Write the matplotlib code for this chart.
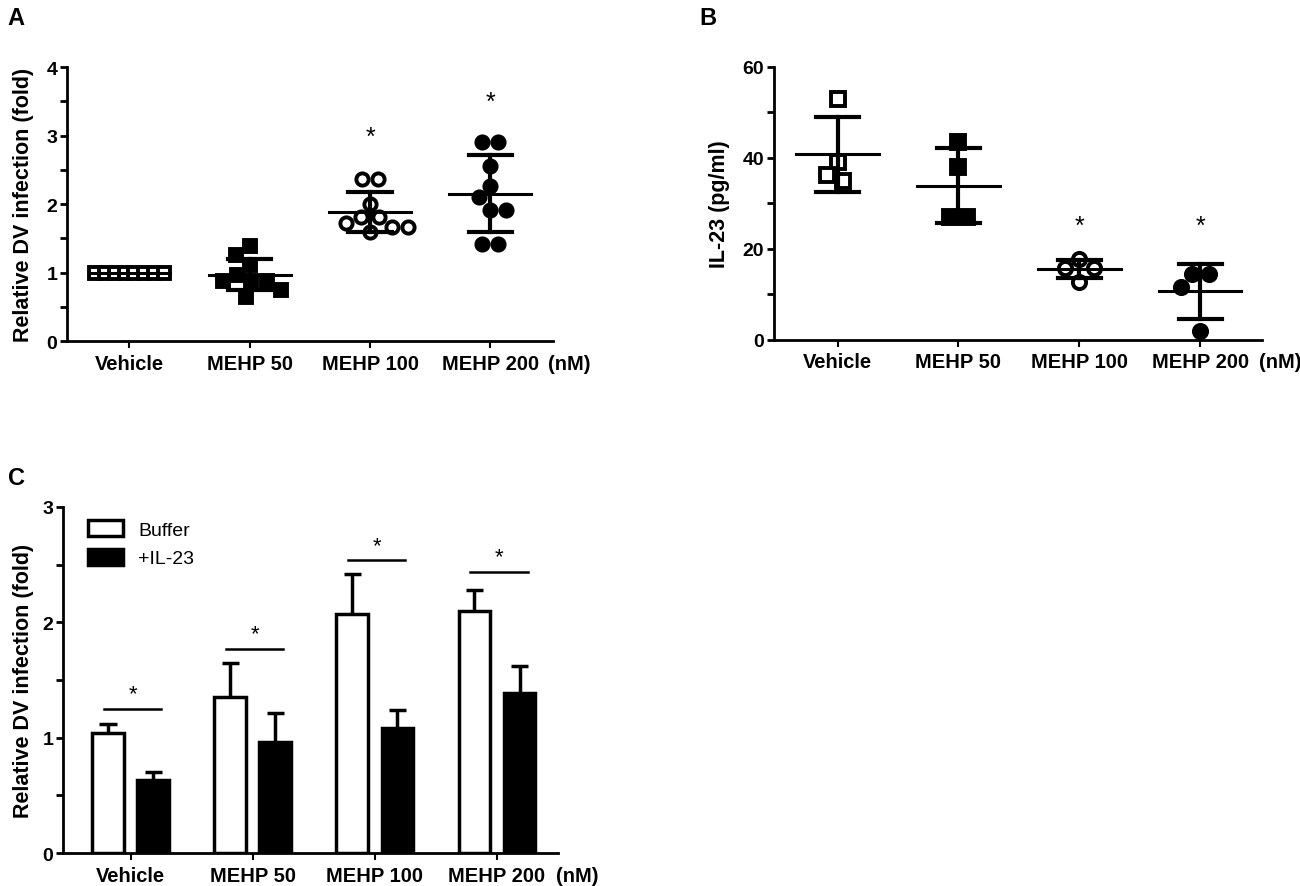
import numpy as np
import matplotlib
matplotlib.use("Agg")
import matplotlib.pyplot as plt
from matplotlib.patches import Patch
from matplotlib.ticker import MultipleLocator

plt.rcParams['font.family'] = ['Liberation Sans', 'DejaVu Sans']

groups = ["Vehicle", "MEHP 50", "MEHP 100", "MEHP 200"]

# panel A: relative DV infection (fold), individual values
a_vehicle = [1.0, 1.0, 1.0, 1.0, 1.0, 1.0, 1.0, 1.0]
a_mehp50 = [1.38, 1.26, 1.11, 0.97, 0.87, 0.87, 0.87, 0.75, 0.65]
a_mehp100 = [2.37, 2.37, 2.0, 1.81, 1.81, 1.73, 1.67, 1.67, 1.59]
a_mehp200 = [2.90, 2.90, 2.55, 2.27, 2.10, 1.91, 1.91, 1.41, 1.41]
a_mean = [1.0, 0.97, 1.88, 2.15]
a_sd = [0.0, 0.23, 0.29, 0.56]
a_star = [None, None, 3.10, 3.61]

# panel B: IL-23 (pg/ml)
b_vehicle = [53.0, 39.1, 36.2, 35.0]
b_mehp50 = [43.5, 38.0, 27.1, 27.1]
b_mehp100 = [17.9, 15.9, 15.9, 12.8]
b_mehp200 = [14.5, 14.5, 11.6, 1.9]
b_mean = [40.8, 33.9, 15.6, 10.7]
b_sd = [8.3, 8.2, 1.9, 6.0]
b_star = [None, None, 26.9, 26.9]

# panel C: bars, mean and upper error
c_buffer = [1.04, 1.35, 2.075, 2.10]
c_buffer_err = [0.08, 0.30, 0.345, 0.18]
c_il23 = [0.636, 0.96, 1.08, 1.39]
c_il23_err = [0.064, 0.25, 0.16, 0.23]
c_sig = [1.25, 1.77, 2.54, 2.44]

# marker style per group: (marker, filled)
styles = [("s", False), ("s", True), ("o", False), ("o", True)]

fig = plt.figure(figsize=(13, 8.87), dpi=100)


def style_axis(ax, ymax, major, minor):
    ax.spines['top'].set_visible(False)
    ax.spines['right'].set_visible(False)
    ax.spines['left'].set_linewidth(2)
    ax.spines['bottom'].set_linewidth(2)
    ax.set_ylim(0, ymax)
    ax.yaxis.set_major_locator(MultipleLocator(major))
    ax.yaxis.set_minor_locator(MultipleLocator(minor))
    ax.tick_params(axis='y', which='major', length=5, width=2, labelsize=14, pad=2)
    ax.tick_params(axis='y', which='minor', length=5, width=2)
    ax.tick_params(axis='x', length=5, width=1.5, labelsize=14.5, pad=4)
    ax.set_xticks(range(len(groups)))
    ax.set_xticklabels(groups, fontweight='bold')
    for t in ax.get_yticklabels():
        t.set_fontweight('bold')
    ax.annotate("(nM)", xy=(3.66, 0), xycoords=('data', 'axes fraction'),
                xytext=(0, -9), textcoords='offset points', ha='center', va='top',
                fontsize=14.5, fontweight='bold', annotation_clip=False)


def swarm(ax, x0, ys, d_px, max_row):
    # simple beeswarm in pixel space, returns x positions in data units
    to_px = ax.transData.transform
    px0 = to_px((x0, 0))[0]
    upx = to_px((1, 0))[0] - to_px((0, 0))[0]
    pys = [to_px((0, y))[1] for y in ys]
    placed = []
    xs = [None] * len(ys)
    order = sorted(range(len(ys)), key=lambda i: -ys[i])

    def free(px, py):
        return all((px - qx) ** 2 + (py - qy) ** 2 >= (0.98 * d_px) ** 2 for qx, qy in placed)

    for i in order:
        if xs[i] is not None:
            continue
        same = [j for j in order if ys[j] == ys[i] and xs[j] is None]
        if len(same) > 1:
            step = min(d_px, max_row * upx / (len(same) - 1))
            row = [(k - (len(same) - 1) / 2) * step for k in range(len(same))]
            if all(free(px0 + r, pys[i]) for r in row):
                for j, r in zip(same, row):
                    xs[j] = px0 + r
                    placed.append((px0 + r, pys[j]))
                continue
        cands = [px0]
        for qx, qy in placed:
            dy = abs(qy - pys[i])
            if dy < d_px:
                dx = np.sqrt(d_px ** 2 - dy ** 2)
                cands += [qx - dx, qx + dx]
        cands.sort(key=lambda c: abs(c - px0))
        for c in cands:
            if free(c, pys[i]):
                xs[i] = c
                placed.append((c, pys[i]))
                break
    return [x0 + (x - px0) / upx for x in xs]


def scatter_panel(ax, data, means, sds, stars, ms, d_px):
    for k, ys in enumerate(data):
        mk, filled = styles[k]
        xs = swarm(ax, k, ys, d_px, 0.58)
        ax.plot(xs, ys, linestyle='none', marker=mk, ms=ms, mew=2.8,
                mec='black', mfc='black' if filled else 'white', zorder=2, clip_on=False)
        m, s = means[k], sds[k]
        ax.plot([k - 0.34, k + 0.34], [m, m], color='black', lw=2.2, zorder=3)
        if s > 0:
            ax.plot([k, k], [m - s, m + s], color='black', lw=3, zorder=3)
            ax.plot([k - 0.18, k + 0.18], [m + s, m + s], color='black', lw=3, zorder=3)
            ax.plot([k - 0.18, k + 0.18], [m - s, m - s], color='black', lw=3, zorder=3)
        if stars[k] is not None:
            ax.annotate("*", xy=(k, stars[k]), xytext=(0, -6), textcoords='offset points',
                        ha='center', va='center', fontsize=18)


# ---------- panel A ----------
axA = fig.add_axes([0.0515, 0.6144, 0.3738, 0.3089])
axA.set_xlim(-0.52, 3.52)
style_axis(axA, 4, 1, 0.5)
axA.set_ylabel("Relative DV infection (fold)", fontsize=15.5, fontweight='bold')
axA.yaxis.set_label_coords(-0.068, 0.5)
scatter_panel(axA, [a_vehicle, a_mehp50, a_mehp100, a_mehp200], a_mean, a_sd, a_star, 8.8, 16)

# ---------- panel B ----------
axB = fig.add_axes([0.5954, 0.6156, 0.3754, 0.3078])
axB.set_xlim(-0.525, 3.51)
style_axis(axB, 60, 20, 10)
axB.set_ylabel("IL-23 (pg/ml)", fontsize=15.5, fontweight='bold')
axB.yaxis.set_label_coords(-0.09, 0.5)
scatter_panel(axB, [b_vehicle, b_mehp50, b_mehp100, b_mehp200], b_mean, b_sd, b_star, 9.5, 17)

# ---------- panel C ----------
axC = fig.add_axes([0.0485, 0.0372, 0.3808, 0.3901])
axC.set_xlim(-0.553, 3.5)
style_axis(axC, 3, 1, 0.5)
axC.set_ylabel("Relative DV infection (fold)", fontsize=15.5, fontweight='bold')
axC.yaxis.set_label_coords(-0.058, 0.5)

x = np.arange(len(groups))
w = 0.26
off = 0.185
axC.bar(x - off, c_buffer, w, color='white', edgecolor='black', linewidth=2.5, zorder=2)
axC.bar(x + off, c_il23, w, color='black', edgecolor='black', linewidth=2.5, zorder=2)
for xs, h, e in [(x - off, c_buffer, c_buffer_err), (x + off, c_il23, c_il23_err)]:
    tops = np.array(h) + np.array(e)
    axC.vlines(xs, h, tops, color='black', lw=2.5, zorder=1)
    axC.hlines(tops, xs - 0.07, xs + 0.07, color='black', lw=2.5, zorder=1)
for k, y in enumerate(c_sig):
    axC.plot([k - 0.22, k + 0.25], [y, y], color='black', lw=1.8)
    axC.annotate("*", xy=(k + 0.02, y), xytext=(0, 3), textcoords='offset points',
                 ha='center', va='bottom', fontsize=16)

axC.legend(handles=[Patch(facecolor='white', edgecolor='black', linewidth=2.5, label='Buffer'),
                    Patch(facecolor='black', edgecolor='black', linewidth=2.5, label='+IL-23')],
           loc='upper left', bbox_to_anchor=(0.03, 0.99), frameon=False, fontsize=14,
           handlelength=1.8, handleheight=0.9, handletextpad=0.8, labelspacing=0.5, borderpad=0)

# panel letters
fig.text(0.006, 0.992, "A", fontsize=17, fontweight='bold', va='top')
fig.text(0.538, 0.992, "B", fontsize=17, fontweight='bold', va='top')
fig.text(0.006, 0.473, "C", fontsize=17, fontweight='bold', va='top')

fig.savefig("out.png", dpi=100)
